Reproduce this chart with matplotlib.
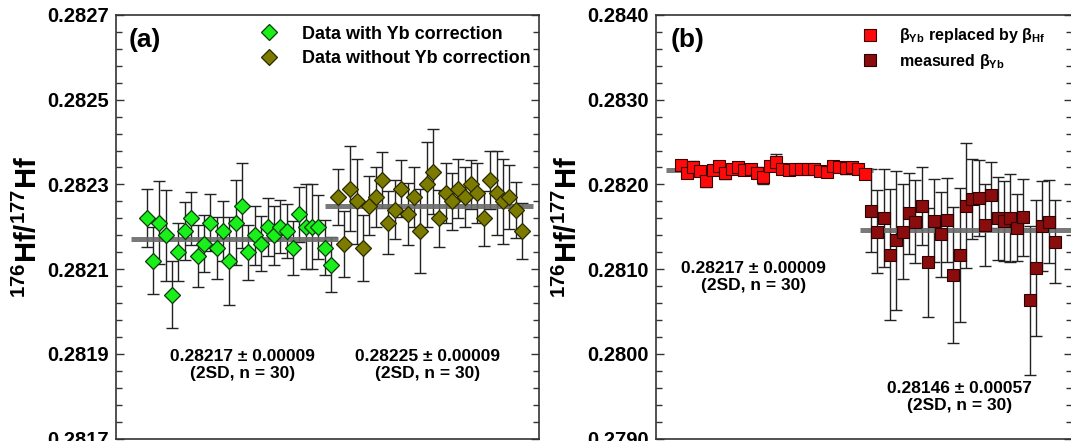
import matplotlib
matplotlib.use('Agg')
import matplotlib.pyplot as plt
import numpy as np
from matplotlib.ticker import FormatStrFormatter

plt.rcParams['font.family'] = ['Liberation Sans', 'DejaVu Sans']
plt.rcParams['font.weight'] = 'bold'
plt.rcParams['axes.labelweight'] = 'bold'
plt.rcParams['mathtext.fontset'] = 'custom'
plt.rcParams['mathtext.rm'] = 'Liberation Sans'
plt.rcParams['mathtext.bf'] = 'Liberation Sans:bold'

# ---- panel (a) data: 176Hf/177Hf, 30 analyses each ----
with_yb = [0.28222, 0.28212, 0.28221, 0.28218, 0.28204, 0.28214, 0.28219, 0.28222, 0.28213, 0.28216,
           0.28221, 0.28215, 0.28219, 0.28212, 0.28221, 0.28225, 0.28214, 0.28218, 0.28216, 0.28220,
           0.28218, 0.28220, 0.28219, 0.28215, 0.28223, 0.28220, 0.28220, 0.28220, 0.28215, 0.28211]
with_yb_err = [0.000068, 0.000079, 0.000098, 0.000107, 0.000078, 0.000068, 0.000068, 0.000063, 0.000073, 0.000067,
               0.000068, 0.000073, 0.000071, 0.000104, 0.000100, 0.000100, 0.000065, 0.000070, 0.000065, 0.000068,
               0.000070, 0.000062, 0.000063, 0.000063, 0.000065, 0.000100, 0.000100, 0.000075, 0.000065, 0.000065]
without_yb = [0.28227, 0.28216, 0.28229, 0.28226, 0.28215, 0.28225, 0.28227, 0.28231, 0.28221, 0.28224,
              0.28229, 0.28223, 0.28227, 0.28219, 0.28230, 0.28233, 0.28222, 0.28228, 0.28226, 0.28229,
              0.28227, 0.28230, 0.28228, 0.28222, 0.28231, 0.28228, 0.28226, 0.28227, 0.28224, 0.28219]
without_yb_err = [0.000067, 0.000078, 0.000100, 0.000100, 0.000078, 0.000070, 0.000070, 0.000066, 0.000074, 0.000070,
                  0.000068, 0.000074, 0.000070, 0.000100, 0.000100, 0.000100, 0.000067, 0.000070, 0.000067, 0.000070,
                  0.000070, 0.000057, 0.000070, 0.000065, 0.000069, 0.000100, 0.000100, 0.000075, 0.000066, 0.000067]
mean_a = [0.28217, 0.28225]

# ---- panel (b) data ----
beta_hf = [0.28223, 0.28214, 0.28221, 0.28216, 0.28204, 0.28217, 0.28222, 0.28214, 0.28218, 0.28221,
           0.28217, 0.28218, 0.28214, 0.28209, 0.28222, 0.28226, 0.28218, 0.28217, 0.28218, 0.28218,
           0.28218, 0.28218, 0.28216, 0.28215, 0.28222, 0.28221, 0.28219, 0.28221, 0.28218, 0.28212]
beta_hf_err = [0.00006, 0.00006, 0.00007, 0.00006, 0.00007, 0.00006, 0.00006, 0.00008, 0.00006, 0.00006,
               0.00006, 0.00006, 0.00006, 0.00008, 0.00006, 0.00010, 0.00006, 0.00006, 0.00006, 0.00006,
               0.00006, 0.00006, 0.00006, 0.00006, 0.00006, 0.00006, 0.00007, 0.00006, 0.00006, 0.00006]
beta_yb = [0.28169, 0.28144, 0.28160, 0.28117, 0.28134, 0.28144, 0.28166, 0.28156, 0.28175, 0.28108,
           0.28157, 0.28141, 0.28158, 0.28093, 0.28117, 0.28175, 0.28183, 0.28184, 0.28152, 0.28188,
           0.28160, 0.28157, 0.28160, 0.28149, 0.28161, 0.28063, 0.28101, 0.28151, 0.28156, 0.28132]
beta_yb_err = [0.00049, 0.00049, 0.00058, 0.00077, 0.00082, 0.00056, 0.00048, 0.00049, 0.00046, 0.00064,
               0.00049, 0.00050, 0.00050, 0.00080, 0.00079, 0.00074, 0.00047, 0.00045, 0.00048, 0.00039,
               0.00049, 0.00047, 0.00052, 0.00040, 0.00045, 0.00088, 0.00080, 0.00053, 0.00049, 0.00049]
mean_b = [0.28217, 0.28146]

labels_a = ['Data with Yb correction', 'Data without Yb correction']
labels_b = [r'β$_{\mathregular{Yb}}$ replaced by β$_{\mathregular{Hf}}$', r'measured β$_{\mathregular{Yb}}$']
notes_a = ['0.28217 ± 0.00009\n(2SD, n = 30)', '0.28225 ± 0.00009\n(2SD, n = 30)']
notes_b = ['0.28217 ± 0.00009\n(2SD, n = 30)', '0.28146 ± 0.00057\n(2SD, n = 30)']
ylabel = r'$^{\mathregular{176}}$Hf/$^{\mathregular{177}}$Hf'

x1 = np.arange(1, 31)
x2 = np.arange(31, 61)

W, H = 1071, 441
fig = plt.figure(figsize=(W / 100, H / 100), dpi=100)
ax1 = fig.add_axes([115.7 / W, 2.5 / H, 423.3 / W, 423.5 / H])
ax2 = fig.add_axes([655.7 / W, 2.5 / H, 416.3 / W, 423.5 / H])

ebar = dict(fmt='none', ecolor='#222222', elinewidth=1.0, capsize=4, capthick=1.0, zorder=2)
mean_kw = dict(color='#6a6a6a', lw=3.6, alpha=0.9, zorder=2.5, solid_capstyle='butt')

# (a)
ax1.errorbar(x1, with_yb, yerr=with_yb_err, **ebar)
ax1.errorbar(x2, without_yb, yerr=without_yb_err, **ebar)
ax1.plot([-1.5, 31.1], [mean_a[0]] * 2, **mean_kw)
ax1.plot([29.0, 61.8], [mean_a[1]] * 2, **mean_kw)
ax1.plot(x2, without_yb, 'D', ms=7.8, mfc='#7d7a00', mec='#2a2a00', mew=0.9, zorder=3, label=labels_a[1])
ax1.plot(x1, with_yb, 'D', ms=7.8, mfc='#19f019', mec='#0a3a0a', mew=0.9, zorder=3.1, label=labels_a[0])
ax1.set_xlim(-3.87, 62.67)
ax1.set_ylim(0.2817, 0.2827)
ax1.set_yticks(np.linspace(0.2817, 0.2827, 6))
ax1.set_yticks(np.linspace(0.2817, 0.2827, 26), minor=True)
ax1.yaxis.set_major_formatter(FormatStrFormatter('%.4f'))
h, l = ax1.get_legend_handles_labels()
ax1.legend(h[::-1], l[::-1], loc='upper right', bbox_to_anchor=(1.01, 1.005), frameon=False,
           fontsize=13, handletextpad=0.8, labelspacing=0.42, borderaxespad=0.3)
ax1.text(16.0, 0.281874, notes_a[0], ha='center', va='center', fontsize=12.5, linespacing=1.15)
ax1.text(45.1, 0.281874, notes_a[1], ha='center', va='center', fontsize=12.5, linespacing=1.15)
ax1.text(0.03, 0.94, '(a)', transform=ax1.transAxes, fontsize=19, va='center')

# (b)
ax2.errorbar(x1, beta_hf, yerr=beta_hf_err, **ebar)
ax2.errorbar(x2, beta_yb, yerr=beta_yb_err, **ebar)
ax2.plot([-1.3, 31.3], [mean_b[0]] * 2, **mean_kw)
ax2.plot([29.3, 63.0], [mean_b[1]] * 2, **mean_kw)
ax2.plot(x1, beta_hf, 's', ms=9.2, mfc='#ff0a0a', mec='#3a0000', mew=0.8, zorder=3, label=labels_b[0])
ax2.plot(x2, beta_yb, 's', ms=9.2, mfc='#8a0c0c', mec='#2a0000', mew=0.8, zorder=3, label=labels_b[1])
ax2.set_xlim(-2.96, 62.7)
ax2.set_ylim(0.2790, 0.2840)
ax2.set_yticks(np.linspace(0.2790, 0.2840, 6))
ax2.set_yticks(np.linspace(0.2790, 0.2840, 26), minor=True)
ax2.yaxis.set_major_formatter(FormatStrFormatter('%.4f'))
ax2.legend(loc='upper left', bbox_to_anchor=(0.45, 1.0), frameon=False,
           fontsize=11.5, handletextpad=0.8, labelspacing=0.4, borderaxespad=0.3)
ax2.text(12.5, 0.280906, notes_b[0], ha='center', va='center', fontsize=12.5, linespacing=1.15)
ax2.text(44.9, 0.279494, notes_b[1], ha='center', va='center', fontsize=12.5, linespacing=1.15)
ax2.text(0.035, 0.94, '(b)', transform=ax2.transAxes, fontsize=19, va='center')

for ax in (ax1, ax2):
    ax.set_xticks([])
    ax.tick_params(axis='y', which='both', direction='in', left=True, right=True,
                   labelsize=14.5, pad=5, width=1.0, color='#333333')
    ax.tick_params(axis='y', which='major', length=6)
    ax.tick_params(axis='y', which='minor', length=4)
    for s in ax.spines.values():
        s.set_linewidth(1.2)
        s.set_color('#333333')
    ax.set_ylabel(ylabel, fontsize=21, fontweight='bold', labelpad=3)

fig.savefig('out.png', dpi=100)
